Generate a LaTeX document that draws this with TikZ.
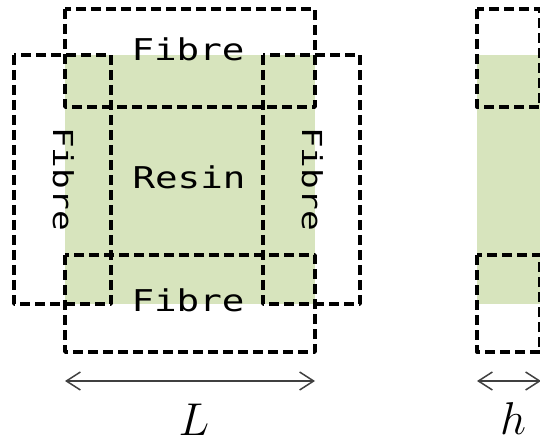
\RequirePackage{fix-cm}
\documentclass[tikz,border=0pt]{standalone}
\usepackage{fontspec}
\usetikzlibrary{positioning, arrows.meta}
\newfontfamily\fibfont[FakeStretch=1.25]{DejaVu Sans Mono}
\definecolor{resingreen}{RGB}{215,228,189}

\begin{document}
\begin{tikzpicture}[x=1pt, y=-1pt,
    fibrebox/.style={draw=black, line width=3.4pt, dash pattern=on 10pt off 5pt, line join=round},
    dimline/.style={draw=black!75, line width=1.5pt, {Straight Barb[length=14pt, width=18pt]}-{Straight Barb[length=14pt, width=18pt]}},
    lbl/.style={font=\fibfont\fontsize{30}{36}\selectfont, inner sep=0pt, anchor=base},
    vlbl/.style={font=\fibfont\fontsize{27.5}{33}\selectfont, inner sep=0pt, anchor=base, rotate=-90},
    dimlbl/.style={font=\fontsize{46}{50}\selectfont, inner sep=0pt, anchor=base}]

    \useasboundingbox (0,0) rectangle (540,443);
    \clip (0,0) rectangle (540,443);

    % Querschnitt (links)
    \fill[resingreen] (65,55) rectangle (315,304);
    \draw[fibrebox] (65,9) rectangle (315,107);
    \draw[fibrebox] (65,255) rectangle (315,352);
    \draw[fibrebox] (14,55) rectangle (111,304);
    \draw[fibrebox] (263,55) rectangle (360,304);

    \node[lbl] (fibtop) at (188,61) {Fibre};
    \node[lbl] (resin) at (189,189) {Resin};
    \node[lbl] (fibbot) at (188,311) {Fibre};
    \node[vlbl] (fibleft) at (53,179) {Fibre};
    \node[vlbl] (fibright) at (302,179) {Fibre};

    % Bemassung L
    \coordinate (lA) at (65,381);
    \coordinate (lB) at (315,381);
    \draw[dimline] (lA) -- (lB);
    \node[dimlbl] (lenL) at (194,435) {$L$};

    % Seitenansicht (rechts, angeschnitten)
    \fill[resingreen] (477,55) rectangle (545,304);
    \draw[fibrebox] (477,9) rectangle (540,107);
    \draw[fibrebox] (477,255) rectangle (540,352);

    % Bemassung h
    \coordinate (hA) at (477,381);
    \coordinate (hB) at (541,381);
    \draw[dimline] (hA) -- (hB);
    \node[dimlbl] (lenh) at (513,434) {$h$};

\end{tikzpicture}
\end{document}
